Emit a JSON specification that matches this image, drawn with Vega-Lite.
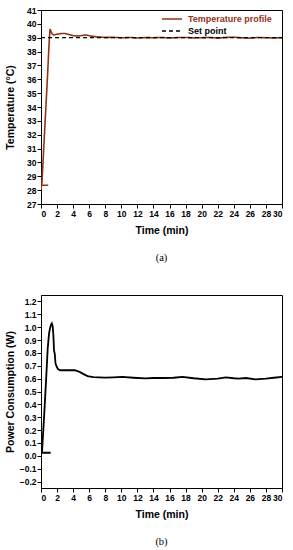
{
  "$schema": "https://vega.github.io/schema/vega-lite/v6.json",
  "background": "white",
  "padding": {"left": 4, "top": 5, "right": 5, "bottom": 2},
  "spacing": 30,
  "config": {
    "font": "Liberation Sans",
    "view": {"stroke": "black", "strokeWidth": 1},
    "axis": {
      "grid": false,
      "domainColor": "black",
      "tickColor": "black",
      "labelColor": "black",
      "titleColor": "black",
      "labelFont": "Liberation Sans",
      "titleFont": "Liberation Sans",
      "labelFontWeight": "bold",
      "labelFontSize": 8.5,
      "titleFontWeight": "bold",
      "titleFontSize": 10.5,
      "tickSize": 4,
      "labelPadding": 1,
      "labelOverlap": false
    },
    "title": {"font": "Liberation Serif", "fontWeight": "normal", "fontSize": 10.5, "color": "black"}
  },
  "datasets": {
    "temp": [
      {"i": 0, "t": 0, "v": 28.0},
      {"i": 1, "t": 0.05, "v": 28.35},
      {"i": 2, "t": 0.9, "v": 28.35},
      {"i": 3, "t": 0.1, "v": 28.35},
      {"i": 4, "t": 0.5, "v": 32.8},
      {"i": 5, "t": 0.8, "v": 36.1},
      {"i": 6, "t": 1.0, "v": 38.5},
      {"i": 7, "t": 1.12, "v": 39.62},
      {"i": 8, "t": 1.25, "v": 39.45},
      {"i": 9, "t": 1.4, "v": 39.25},
      {"i": 10, "t": 1.6, "v": 39.2},
      {"i": 11, "t": 2.0, "v": 39.25},
      {"i": 12, "t": 2.5, "v": 39.3},
      {"i": 13, "t": 3.0, "v": 39.3},
      {"i": 14, "t": 3.5, "v": 39.22},
      {"i": 15, "t": 4.0, "v": 39.15},
      {"i": 16, "t": 4.5, "v": 39.12},
      {"i": 17, "t": 5.0, "v": 39.15},
      {"i": 18, "t": 5.6, "v": 39.2},
      {"i": 19, "t": 6.2, "v": 39.12},
      {"i": 20, "t": 7.0, "v": 39.06},
      {"i": 21, "t": 8, "v": 39.02},
      {"i": 22, "t": 9, "v": 39.03},
      {"i": 23, "t": 10, "v": 38.99},
      {"i": 24, "t": 11, "v": 39.02},
      {"i": 25, "t": 12, "v": 38.98},
      {"i": 26, "t": 13, "v": 39.01},
      {"i": 27, "t": 14, "v": 39.0},
      {"i": 28, "t": 15, "v": 39.02},
      {"i": 29, "t": 16, "v": 38.98},
      {"i": 30, "t": 17, "v": 39.01},
      {"i": 31, "t": 18, "v": 39.02},
      {"i": 32, "t": 19, "v": 38.99},
      {"i": 33, "t": 20, "v": 39.0},
      {"i": 34, "t": 21, "v": 39.02},
      {"i": 35, "t": 22, "v": 38.97},
      {"i": 36, "t": 23, "v": 39.02},
      {"i": 37, "t": 24, "v": 39.04},
      {"i": 38, "t": 25, "v": 38.99},
      {"i": 39, "t": 26, "v": 38.97},
      {"i": 40, "t": 27, "v": 39.02},
      {"i": 41, "t": 28, "v": 39.0},
      {"i": 42, "t": 29, "v": 38.98},
      {"i": 43, "t": 30, "v": 39.0}
    ],
    "setpoint": [
      {"i": 0, "t": 0, "v": 39},
      {"i": 1, "t": 30, "v": 39}
    ],
    "power": [
      {"i": 0, "t": 0.1, "v": 0.024},
      {"i": 1, "t": 1.2, "v": 0.024},
      {"i": 2, "t": 0.12, "v": 0.024},
      {"i": 3, "t": 0.4, "v": 0.32},
      {"i": 4, "t": 0.62, "v": 0.575},
      {"i": 5, "t": 0.83, "v": 0.83},
      {"i": 6, "t": 1.0, "v": 0.95},
      {"i": 7, "t": 1.12, "v": 0.99},
      {"i": 8, "t": 1.25, "v": 1.02},
      {"i": 9, "t": 1.35, "v": 1.03},
      {"i": 10, "t": 1.45, "v": 1.01},
      {"i": 11, "t": 1.54, "v": 0.94},
      {"i": 12, "t": 1.62, "v": 0.82},
      {"i": 13, "t": 1.72, "v": 0.79},
      {"i": 14, "t": 1.8, "v": 0.72},
      {"i": 15, "t": 1.9, "v": 0.7},
      {"i": 16, "t": 2.1, "v": 0.675},
      {"i": 17, "t": 2.4, "v": 0.665},
      {"i": 18, "t": 3.0, "v": 0.665},
      {"i": 19, "t": 3.6, "v": 0.665},
      {"i": 20, "t": 4.2, "v": 0.665},
      {"i": 21, "t": 4.8, "v": 0.652},
      {"i": 22, "t": 5.3, "v": 0.635},
      {"i": 23, "t": 5.8, "v": 0.62},
      {"i": 24, "t": 6.5, "v": 0.612},
      {"i": 25, "t": 7.2, "v": 0.61},
      {"i": 26, "t": 8, "v": 0.608},
      {"i": 27, "t": 9, "v": 0.61},
      {"i": 28, "t": 10.1, "v": 0.613},
      {"i": 29, "t": 11.5, "v": 0.607},
      {"i": 30, "t": 13, "v": 0.602},
      {"i": 31, "t": 14, "v": 0.605},
      {"i": 32, "t": 15.1, "v": 0.605},
      {"i": 33, "t": 16.5, "v": 0.607},
      {"i": 34, "t": 17.6, "v": 0.613},
      {"i": 35, "t": 19, "v": 0.603},
      {"i": 36, "t": 20.5, "v": 0.595},
      {"i": 37, "t": 22, "v": 0.6},
      {"i": 38, "t": 23, "v": 0.61},
      {"i": 39, "t": 24, "v": 0.603},
      {"i": 40, "t": 24.6, "v": 0.6},
      {"i": 41, "t": 25.5, "v": 0.605},
      {"i": 42, "t": 26.7, "v": 0.595},
      {"i": 43, "t": 28, "v": 0.6},
      {"i": 44, "t": 29, "v": 0.607},
      {"i": 45, "t": 30, "v": 0.613}
    ]
  },
  "vconcat": [
    {
      "width": 241,
      "height": 194,
      "title": {"text": "(a)", "orient": "bottom", "offset": 17},
      "encoding": {
        "x": {"field": "t", "type": "quantitative", "scale": {"domain": [0, 30], "nice": false},
          "axis": {"title": "Time (min)", "values": [0,2,4,6,8,10,12,14,16,18,20,22,24,26,28,30], "titlePadding": 8}},
        "y": {"field": "v", "type": "quantitative", "scale": {"domain": [27, 41], "nice": false, "zero": false},
          "axis": {"title": "Temperature (°C)", "values": [27,28,29,30,31,32,33,34,35,36,37,38,39,40,41], "minExtent": 20, "maxExtent": 20, "titlePadding": 6}},
        "order": {"field": "i", "type": "quantitative"},
        "color": {"field": "series", "type": "nominal",
          "scale": {"domain": ["Temperature profile", "Set point"], "range": ["#8f3416", "black"]},
          "legend": {"title": null, "orient": "none", "legendX": 125, "legendY": 3, "padding": 0,
            "symbolType": "M-2,0H2", "symbolSize": 100, "symbolStrokeWidth": 1.5,
            "labelFontSize": 9, "labelFontWeight": "bold", "labelFont": "Liberation Sans", "rowPadding": 1, "labelOffset": 10,
            "encode": {"labels": {"update": {"fill": {"signal": "datum.label === 'Set point' ? 'black' : '#8f3416'"}}}}}},
        "strokeDash": {"field": "series", "type": "nominal",
          "scale": {"domain": ["Temperature profile", "Set point"], "range": [[1, 0], [4, 3]]},
          "legend": null}
      },
      "layer": [
        {
          "data": {"name": "temp"},
          "transform": [{"calculate": "'Temperature profile'", "as": "series"}],
          "mark": {"type": "line", "strokeWidth": 1.6, "clip": true}
        },
        {
          "data": {"name": "setpoint"},
          "transform": [{"calculate": "'Set point'", "as": "series"}],
          "mark": {"type": "line", "strokeWidth": 1.3}
        }
      ]
    },
    {
      "width": 241,
      "height": 193,
      "title": {"text": "(b)", "orient": "bottom", "offset": 17},
      "data": {"name": "power"},
      "mark": {"type": "line", "strokeWidth": 1.8, "color": "black"},
      "encoding": {
        "x": {"field": "t", "type": "quantitative", "scale": {"domain": [0, 30], "nice": false},
          "axis": {"title": "Time (min)", "values": [0,2,4,6,8,10,12,14,16,18,20,22,24,26,28,30], "titlePadding": 8}},
        "y": {"field": "v", "type": "quantitative", "scale": {"domain": [-0.25, 1.25], "nice": false, "zero": false},
          "axis": {"title": "Power Consumption (W)", "values": [-0.2,-0.1,0,0.1,0.2,0.3,0.4,0.5,0.6,0.7,0.8,0.9,1.0,1.1,1.2], "format": ".1f", "minExtent": 20, "maxExtent": 20, "titlePadding": 6}},
        "order": {"field": "i", "type": "quantitative"}
      }
    }
  ]
}
